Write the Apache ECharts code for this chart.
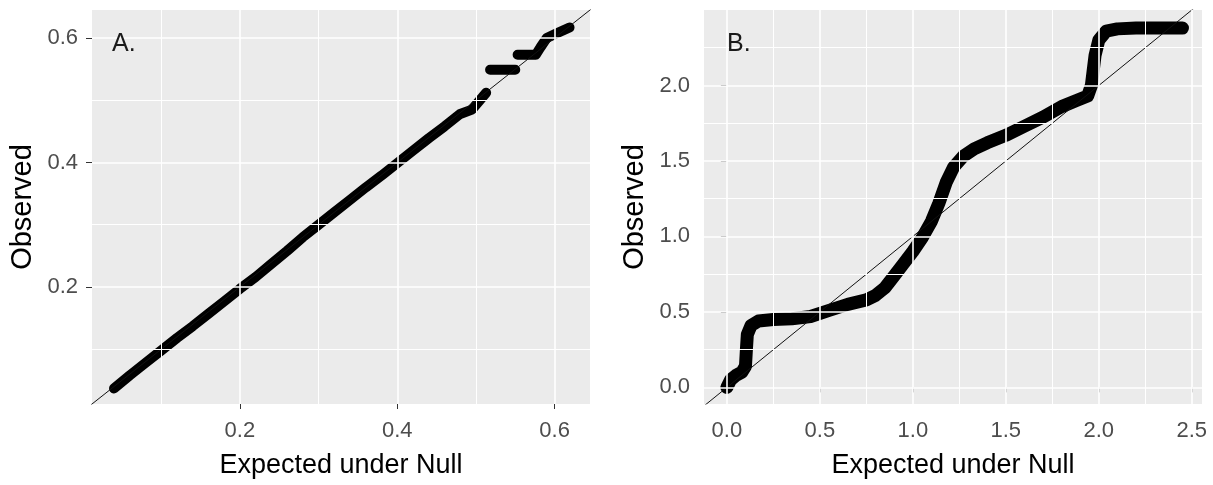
<!DOCTYPE html>
<html>
<head>
<meta charset="utf-8">
<script src="https://cdn.jsdelivr.net/npm/echarts@6/dist/echarts.min.js"></script>
<style>html,body{margin:0;padding:0;background:#fff;}#c{width:1213px;height:485px;}</style>
</head>
<body>
<div id="c"></div>
<script>
// ---------- Data ----------
// Panel A: observed vs expected (Q-Q trail), null breaks separate clusters
const qqA = [
  [0.040,0.037],[0.060,0.058],[0.080,0.078],[0.100,0.098],[0.120,0.118],[0.140,0.137],
  [0.160,0.157],[0.180,0.177],[0.200,0.197],[0.220,0.216],[0.240,0.237],[0.260,0.258],
  [0.280,0.280],[0.300,0.300],[0.320,0.320],[0.340,0.340],[0.360,0.360],[0.380,0.379],
  [0.400,0.399],[0.420,0.419],[0.440,0.439],[0.460,0.458],[0.480,0.478],[0.495,0.485],
  [0.505,0.500],[0.513,0.512],
  null,
  [0.518,0.549],[0.550,0.549],
  null,
  [0.553,0.573],[0.576,0.573],[0.582,0.585],[0.590,0.600],[0.600,0.606],[0.619,0.617]
];
// Panel B
const qqB = [
  [0.000,0.000],[0.020,0.050],[0.050,0.080],[0.080,0.100],[0.100,0.140],[0.105,0.250],
  [0.110,0.350],[0.130,0.410],[0.170,0.440],[0.250,0.450],[0.350,0.455],[0.450,0.470],
  [0.550,0.510],[0.650,0.550],[0.750,0.580],[0.800,0.610],[0.850,0.660],[0.900,0.740],
  [0.950,0.820],[1.000,0.900],[1.050,0.990],[1.100,1.100],[1.140,1.220],[1.180,1.360],
  [1.220,1.460],[1.270,1.530],[1.330,1.580],[1.400,1.620],[1.500,1.670],[1.600,1.730],
  [1.700,1.790],[1.800,1.860],[1.880,1.900],[1.940,1.930],[1.960,2.000],[1.970,2.100],
  [1.980,2.200],[2.000,2.300],[2.040,2.360],[2.100,2.375],[2.200,2.380],[2.300,2.380],
  [2.450,2.380]
];
// y = x reference line (clipped to panel)
const refA = [[-1,-1],[3,3]];
const refB = [[-1,-1],[3,3]];
// Axis ranges
const rangeA = [0.012, 0.645];
const rangeBx = [-0.123, 2.555];
const rangeBy = [-0.11, 2.50];
// Ticks / gridlines
const ticksA = [0.2, 0.4, 0.6];
const minorA = [0.1, 0.3, 0.5];
const ticksB_x = [0.0, 0.5, 1.0, 1.5, 2.0, 2.5];
const minorB_x = [0.25, 0.75, 1.25, 1.75, 2.25];
const ticksB_y = [0.0, 0.5, 1.0, 1.5, 2.0];
const minorB_y = [0.25, 0.75, 1.25, 1.75, 2.25];
const panelLabels = ['A.', 'B.'];
const xTitle = 'Expected under Null';
const yTitle = 'Observed';

// ---------- Chart ----------
const FONT = '"Liberation Sans", Arial, sans-serif';
const chart = echarts.init(document.getElementById('c'), null, {renderer: 'canvas'});

function gridLines(xs, ys, w) {
  const d = [];
  xs.forEach(v => d.push({xAxis: v, lineStyle: {width: w}}));
  ys.forEach(v => d.push({yAxis: v, lineStyle: {width: w}}));
  return d;
}
function xAxisDef(gi, range, ticks, fmt) {
  return {
    type: 'value', gridIndex: gi, min: range[0], max: range[1],
    splitLine: {show: false}, axisLine: {show: false},
    axisTick: {show: true, customValues: ticks, length: 5, lineStyle: {color: '#333', width: 1}},
    axisLabel: {customValues: ticks, margin: 16, color: '#4D4D4D', fontSize: 22, fontFamily: FONT,
      formatter: v => v.toFixed(fmt)},
    name: xTitle, nameLocation: 'middle', nameGap: 48,
    nameTextStyle: {color: '#000', fontSize: 27, fontFamily: FONT}
  };
}
function yAxisDef(gi, range, ticks, fmt) {
  return {
    type: 'value', gridIndex: gi, min: range[0], max: range[1],
    splitLine: {show: false}, axisLine: {show: false},
    axisTick: {show: true, customValues: ticks, length: 6, lineStyle: {color: '#333', width: 1}},
    axisLabel: {customValues: ticks, margin: 14, color: '#4D4D4D', fontSize: 22, fontFamily: FONT,
      formatter: v => v.toFixed(fmt)},
    name: yTitle, nameLocation: 'middle', nameGap: 55, nameRotate: 90,
    nameTextStyle: {color: '#000', fontSize: 29, fontFamily: FONT}
  };
}
function gridSeries(i, majX, minX, majY, minY) {
  return {
    type: 'line', xAxisIndex: i, yAxisIndex: i, data: [], z: 1, silent: true,
    markLine: {silent: true, symbol: 'none', label: {show: false}, animation: false,
      lineStyle: {color: '#FFFFFF', type: 'solid', width: 1.5},
      data: gridLines(minX, minY, 1).concat(gridLines(majX, majY, 1.6))}
  };
}
function trail(i, data, w) {
  return {type: 'line', xAxisIndex: i, yAxisIndex: i, data: data, z: 3, symbol: 'none',
    connectNulls: false, silent: true,
    lineStyle: {color: '#000', width: w, cap: 'round', join: 'round'}};
}
function ref(i, data) {
  return {type: 'line', xAxisIndex: i, yAxisIndex: i, data: data, z: 4, symbol: 'none', clip: true,
    silent: true, lineStyle: {color: '#111', width: 1}};
}

chart.setOption({
  animation: false,
  backgroundColor: '#FFFFFF',
  title: [
    {text: panelLabels[0], left: 107, top: 27, textStyle: {fontSize: 25, fontWeight: 'normal', color: '#1A1A1A', fontFamily: FONT}},
    {text: panelLabels[1], left: 722, top: 27, textStyle: {fontSize: 25, fontWeight: 'normal', color: '#1A1A1A', fontFamily: FONT}}
  ],
  grid: [
    {left: 92, top: 10, width: 498, height: 394, show: true, backgroundColor: '#EBEBEB', borderWidth: 0},
    {left: 704, top: 10, width: 498, height: 394, show: true, backgroundColor: '#EBEBEB', borderWidth: 0}
  ],
  xAxis: [xAxisDef(0, rangeA, ticksA, 1), xAxisDef(1, rangeBx, ticksB_x, 1)],
  yAxis: [yAxisDef(0, rangeA, ticksA, 1), yAxisDef(1, rangeBy, ticksB_y, 1)],
  series: [
    gridSeries(0, ticksA, minorA, ticksA, minorA),
    gridSeries(1, ticksB_x, minorB_x, ticksB_y, minorB_y),
    trail(0, qqA, 10),
    trail(1, qqB, 13),
    ref(0, refA),
    ref(1, refB)
  ]
});
</script>
</body>
</html>
